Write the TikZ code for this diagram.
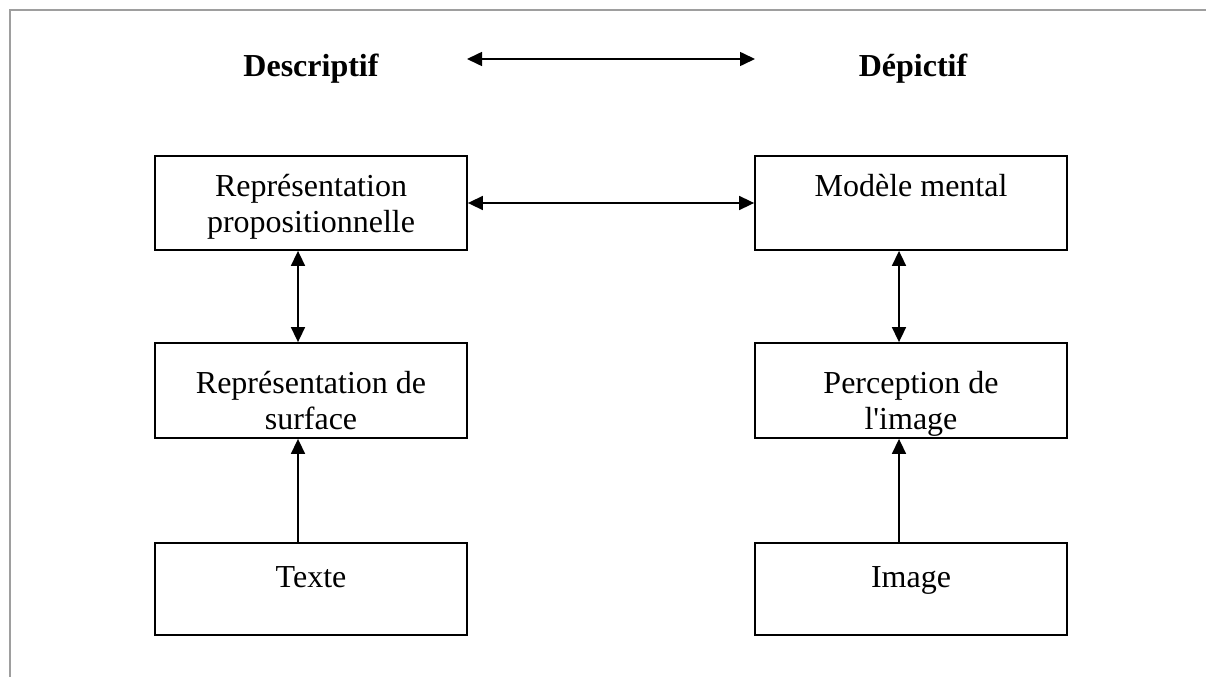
\documentclass[tikz,border=0pt]{standalone}
\usepackage{fontspec}
\newfontfamily\tnr{Liberation Serif}
\usetikzlibrary{arrows.meta,calc}
\begin{document}
\begin{tikzpicture}[x=1pt,y=-1pt,
  box/.style={draw, line width=1.8pt, minimum width=312pt, minimum height=94pt, inner sep=0pt},
  txt/.style={font=\tnr\fontsize{32}{36}\selectfont, align=center, inner sep=0pt, anchor=north},
  ttl/.style={font=\tnr\bfseries\fontsize{32}{36}\selectfont, inner sep=0pt, anchor=base},
  tip/.tip={Triangle[length=15pt,width=14pt]},
  arr/.style={line width=1.6pt, -tip},
  darr/.style={line width=1.6pt, tip-tip},
  frameline/.style={draw=black!38, line width=2pt}]
\useasboundingbox (0,0) rectangle (1206,677);
\draw[frameline] (1206,10) -- (10,10) -- (10,677);

% titles
\node[ttl] (desc) at (311,77) {Descriptif};
\node[ttl] (depi) at (913,77) {Dépictif};
\coordinate (ta1) at (467,59);
\coordinate (ta2) at (755,59);
\draw[darr] (ta1) -- (ta2);

% boxes
\node[box] (rp) at (311,203) {};
\node[box] (mm) at (911,203) {};
\node[box, minimum height=95pt] (rs) at (311,390.5) {};
\node[box, minimum height=95pt] (pi) at (911,390.5) {};
\node[box, minimum height=92pt] (tx) at (311,589) {};
\node[box, minimum height=92pt] (im) at (911,589) {};

% texts
\node[txt] (rpt) at ($(rp.north)+(0,16)$) {\strut Représentation\\\strut propositionnelle};
\node[txt] (mmt) at ($(mm.north)+(0,16)$) {\strut Modèle mental};
\node[txt] (rst) at ($(rs.north)+(0,26)$) {\strut Représentation de\\\strut surface};
\node[txt] (pit) at ($(pi.north)+(0,26)$) {\strut Perception de\\\strut l'image};
\node[txt] (txt) at ($(tx.north)+(0,20)$) {\strut Texte};
\node[txt] (imt) at ($(im.north)+(0,20)$) {\strut Image};

% connectors
\coordinate (cl) at (298,0);
\coordinate (cr) at (899,0);
\draw[darr] (rp.east) -- (mm.west);
\draw[darr] (rp.south -| cl) -- (rs.north -| cl);
\draw[darr] (mm.south -| cr) -- (pi.north -| cr);
\draw[arr] (tx.north -| cl) -- (rs.south -| cl);
\draw[arr] (im.north -| cr) -- (pi.south -| cr);
\end{tikzpicture}
\end{document}
